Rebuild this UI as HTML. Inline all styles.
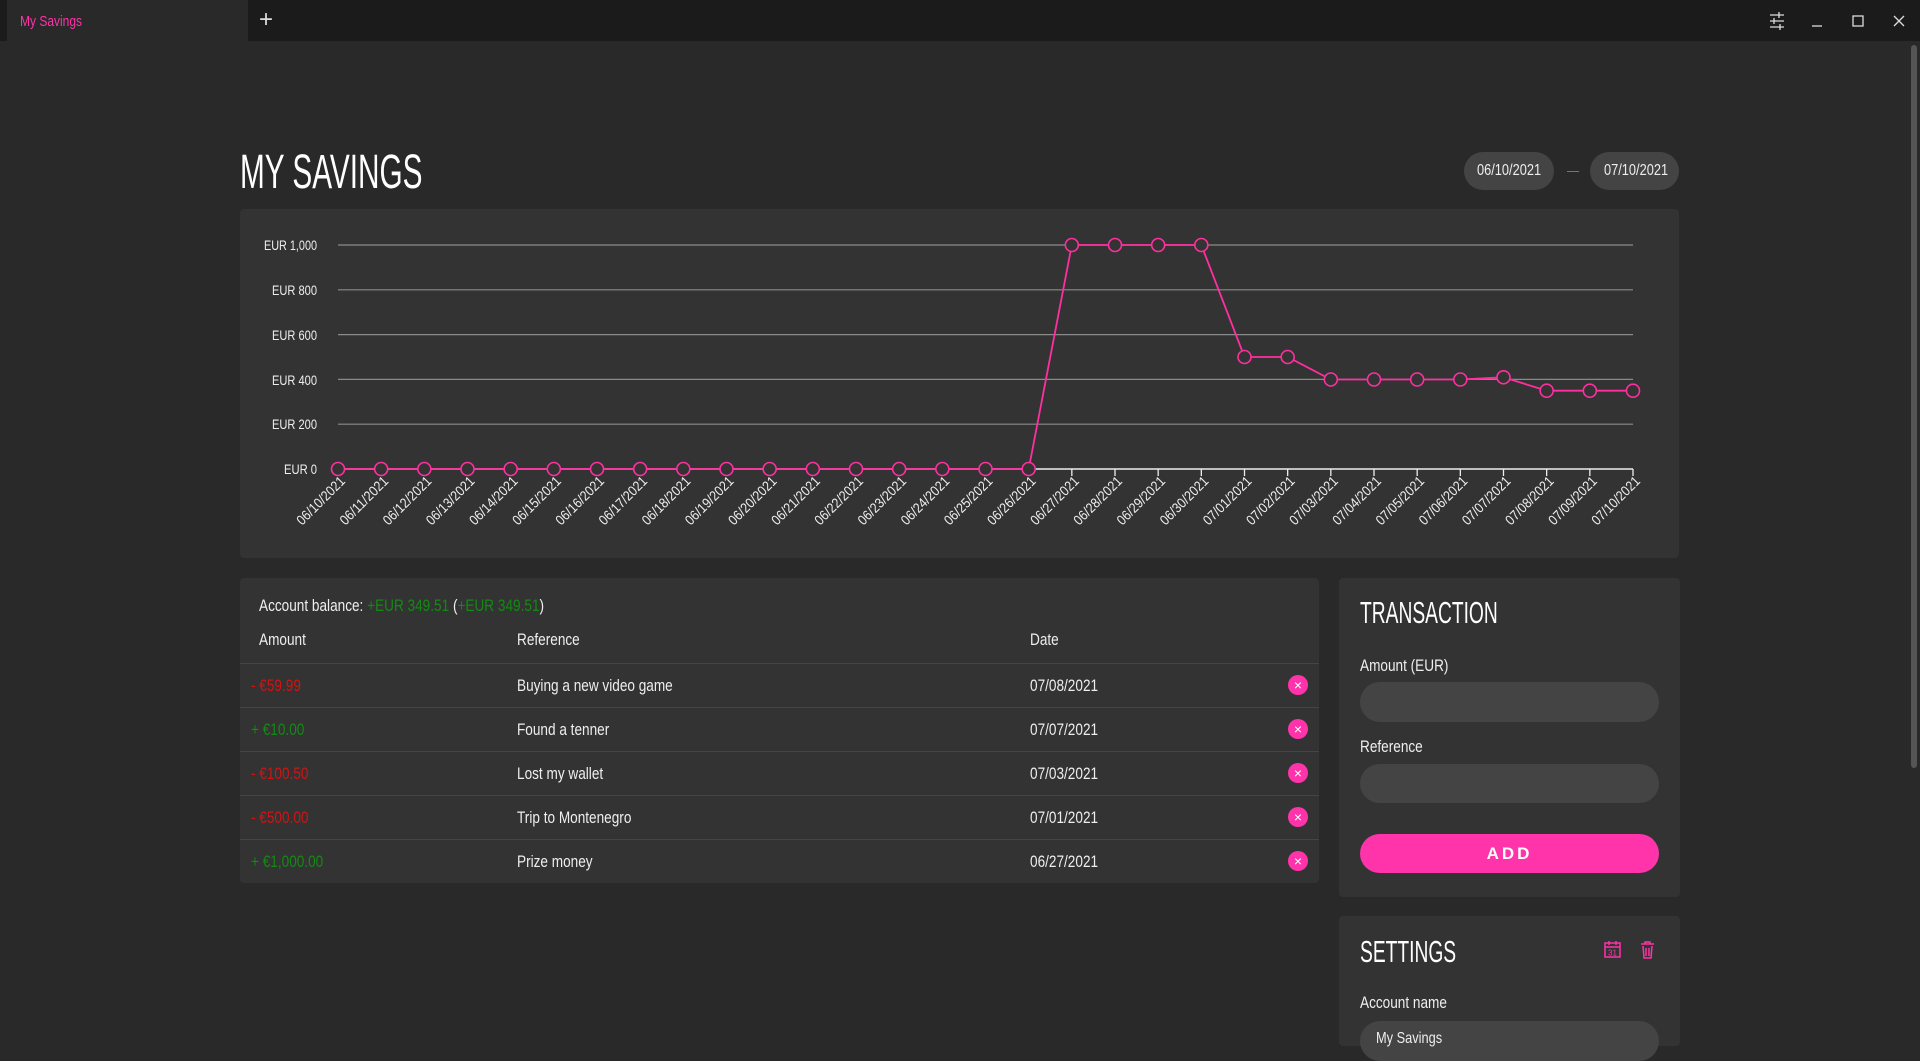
<!DOCTYPE html>
<html><head><meta charset="utf-8"><style>
*{margin:0;padding:0;box-sizing:border-box}
body{width:1920px;height:1039px;background:#292929;overflow:hidden;position:relative;font-family:"Liberation Sans",sans-serif;color:#eee}
.abs{position:absolute}
.card{position:absolute;background:#333;border-radius:4px}
.pill{position:absolute;background:#444;border-radius:20px}
.t{position:absolute;white-space:nowrap;transform:scaleX(0.8);transform-origin:left top}
.h{transform:scaleX(0.62)}
.row{position:absolute;left:240px;width:1079px;height:1px;background:#454545}
.x{position:absolute;width:20px;height:20px;border-radius:50%;background:#ff33aa;color:#fff;font:14px/20px "Liberation Sans",sans-serif;text-align:center}
.red{color:#d01414}.grn{color:#138a13}
</style></head><body>
<div class="abs" style="left:0;top:0;width:1920px;height:41px;background:#1b1b1b"></div>
<div class="abs" style="left:7px;top:0;width:241px;height:41px;background:#292929"></div>
<div class="t" style="left:20px;top:13px;font-size:15px;color:#ff33aa">My Savings</div>
<div class="abs" style="left:259px;top:6px;font:300 24px 'Liberation Sans',sans-serif;color:#ddd">+</div>
<svg class="abs" style="left:1760px;top:8px" width="160" height="26" stroke="#ddd" fill="none" stroke-width="1.3">
<path d="M10 7h14M10 13h14M10 19h14M19 4v6M14 10v6M20 16v6"/>
<path d="M52 18h10"/><rect x="93" y="8" width="10" height="10"/><path d="M134 8l10 10M144 8l-10 10"/></svg>
<div class="abs" style="left:1911px;top:45px;width:6px;height:723px;background:#555;border-radius:3px"></div>

<div class="t h" style="left:240px;top:145px;font-size:48px;font-weight:300;color:#fff">MY SAVINGS</div>
<div class="pill" style="left:1464px;top:152px;width:90px;height:38px"></div>
<div class="t" style="left:1477px;top:162px;font-size:16px">06/10/2021</div>
<div class="abs" style="left:1567px;top:171px;width:12px;height:1px;background:#777"></div>
<div class="pill" style="left:1590px;top:152px;width:89px;height:38px"></div>
<div class="t" style="left:1604px;top:162px;font-size:16px">07/10/2021</div>

<div class="card" style="left:240px;top:209px;width:1439px;height:349px"></div>
<svg class="abs" style="left:0;top:0" width="1920" height="600">
<g stroke="#8a8a8a" stroke-width="1.2"><path d="M338 245H1633M338 289.8H1633M338 334.6H1633M338 379.4H1633M338 424.2H1633"/></g>
<path d="M338 469H1633" stroke="#eee" stroke-width="1.5"/>
<g font-family="Liberation Sans,sans-serif" font-size="14" fill="#eee" text-anchor="end" lengthAdjust="spacingAndGlyphs">
<text x="317" y="250" textLength="53" lengthAdjust="spacingAndGlyphs">EUR 1,000</text><text x="317" y="295" textLength="45" lengthAdjust="spacingAndGlyphs">EUR 800</text><text x="317" y="340" textLength="45" lengthAdjust="spacingAndGlyphs">EUR 600</text><text x="317" y="385" textLength="45" lengthAdjust="spacingAndGlyphs">EUR 400</text><text x="317" y="429" textLength="45" lengthAdjust="spacingAndGlyphs">EUR 200</text><text x="317" y="474" textLength="33" lengthAdjust="spacingAndGlyphs">EUR 0</text>
</g>
<g id="ticks" stroke="#eee" stroke-width="1.3"></g>
<g id="labels" font-family="Liberation Sans,sans-serif" font-size="14" fill="#eee" text-anchor="end"></g>
<polyline id="ln" fill="none" stroke="#ff2fa0" stroke-width="1.8"/>
<g id="pts" fill="#333" stroke="#ff2fa0" stroke-width="1.6"></g>
</svg>
<script>
var v=[];for(var i=0;i<31;i++){v.push(i<17?0:i<21?1000:i<23?500:i<27?399.5:i<28?409.5:349.51);}
var d=[];for(i=10;i<=30;i++)d.push("06/"+i+"/2021");for(i=1;i<=10;i++)d.push("07/"+(i<10?"0"+i:i)+"/2021");
var ns="http://www.w3.org/2000/svg",P=[],T=document.getElementById("ticks"),L=document.getElementById("labels"),C=document.getElementById("pts");
for(i=0;i<31;i++){var x=338+i*43.1667,y=469-v[i]*0.224;P.push(x.toFixed(1)+","+y.toFixed(1));
var l=document.createElementNS(ns,"line");l.setAttribute("x1",x);l.setAttribute("x2",x);l.setAttribute("y1",469);l.setAttribute("y2",476);T.appendChild(l);
var t=document.createElementNS(ns,"text");t.setAttribute("transform","translate("+(x+8)+",482) rotate(-45)");t.setAttribute("textLength","62");t.setAttribute("lengthAdjust","spacingAndGlyphs");t.textContent=d[i];L.appendChild(t);
var c=document.createElementNS(ns,"circle");c.setAttribute("cx",x);c.setAttribute("cy",y);c.setAttribute("r",6.5);C.appendChild(c);}
document.getElementById("ln").setAttribute("points",P.join(" "));
</script>

<div class="card" style="left:240px;top:578px;width:1079px;height:305px"></div>
<div class="t" style="left:259px;top:596px;font-size:17px">Account balance: <span class="grn">+EUR 349.51</span> (<span class="grn">+EUR 349.51</span>)</div>
<div class="t" style="left:259px;top:630px;font-size:17px">Amount</div>
<div class="t" style="left:517px;top:630px;font-size:17px">Reference</div>
<div class="t" style="left:1030px;top:630px;font-size:17px">Date</div>
<div class="row" style="top:663px"></div><div class="row" style="top:707px"></div><div class="row" style="top:751px"></div><div class="row" style="top:795px"></div><div class="row" style="top:839px"></div>
<div class="t red" style="left:251px;top:676px;font-size:17px">- €59.99</div>
<div class="t" style="left:517px;top:676px;font-size:17px">Buying a new video game</div>
<div class="t" style="left:1030px;top:676px;font-size:17px">07/08/2021</div>
<div class="t grn" style="left:251px;top:720px;font-size:17px">+ €10.00</div>
<div class="t" style="left:517px;top:720px;font-size:17px">Found a tenner</div>
<div class="t" style="left:1030px;top:720px;font-size:17px">07/07/2021</div>
<div class="t red" style="left:251px;top:764px;font-size:17px">- €100.50</div>
<div class="t" style="left:517px;top:764px;font-size:17px">Lost my wallet</div>
<div class="t" style="left:1030px;top:764px;font-size:17px">07/03/2021</div>
<div class="t red" style="left:251px;top:808px;font-size:17px">- €500.00</div>
<div class="t" style="left:517px;top:808px;font-size:17px">Trip to Montenegro</div>
<div class="t" style="left:1030px;top:808px;font-size:17px">07/01/2021</div>
<div class="t grn" style="left:251px;top:852px;font-size:17px">+ €1,000.00</div>
<div class="t" style="left:517px;top:852px;font-size:17px">Prize money</div>
<div class="t" style="left:1030px;top:852px;font-size:17px">06/27/2021</div>
<div class="x" style="left:1288px;top:675px">×</div><div class="x" style="left:1288px;top:719px">×</div><div class="x" style="left:1288px;top:763px">×</div><div class="x" style="left:1288px;top:807px">×</div><div class="x" style="left:1288px;top:851px">×</div>

<div class="card" style="left:1339px;top:578px;width:341px;height:319px"></div>
<div class="t h" style="left:1360px;top:595px;font-size:31px;font-weight:300;color:#fff">TRANSACTION</div>
<div class="t" style="left:1360px;top:656px;font-size:17px">Amount (EUR)</div>
<div class="pill" style="left:1360px;top:682px;width:299px;height:40px"></div>
<div class="t" style="left:1360px;top:737px;font-size:17px">Reference</div>
<div class="pill" style="left:1360px;top:764px;width:299px;height:39px"></div>
<div class="abs" style="left:1360px;top:834px;width:299px;height:39px;border-radius:20px;background:#ff33aa;color:#fff;font-weight:bold;font-size:17px;letter-spacing:3px;text-align:center;line-height:39px">ADD</div>

<div class="card" style="left:1339px;top:916px;width:341px;height:130px"></div>
<div class="t h" style="left:1360px;top:934px;font-size:31px;font-weight:300;color:#fff">SETTINGS</div>
<svg class="abs" style="left:1604px;top:940px" width="60" height="22" fill="none" stroke="#ff33aa" stroke-width="1.5">
<rect x="1" y="3" width="15" height="14"/><path d="M1 7h15M5 1v4M12 1v4"/><text x="8.5" y="15.5" font-size="8" fill="#ff33aa" stroke="none" text-anchor="middle" font-family="Liberation Sans">31</text>
<path d="M37 4h13M41 4V2h5v2M39 6l1 12h7l1-12M42 8v8M45 8v8"/></svg>
<div class="t" style="left:1360px;top:993px;font-size:17px">Account name</div>
<div class="pill" style="left:1360px;top:1021px;width:299px;height:40px"></div>
<div class="t" style="left:1376px;top:1030px;font-size:16px">My Savings</div>
</body></html>
